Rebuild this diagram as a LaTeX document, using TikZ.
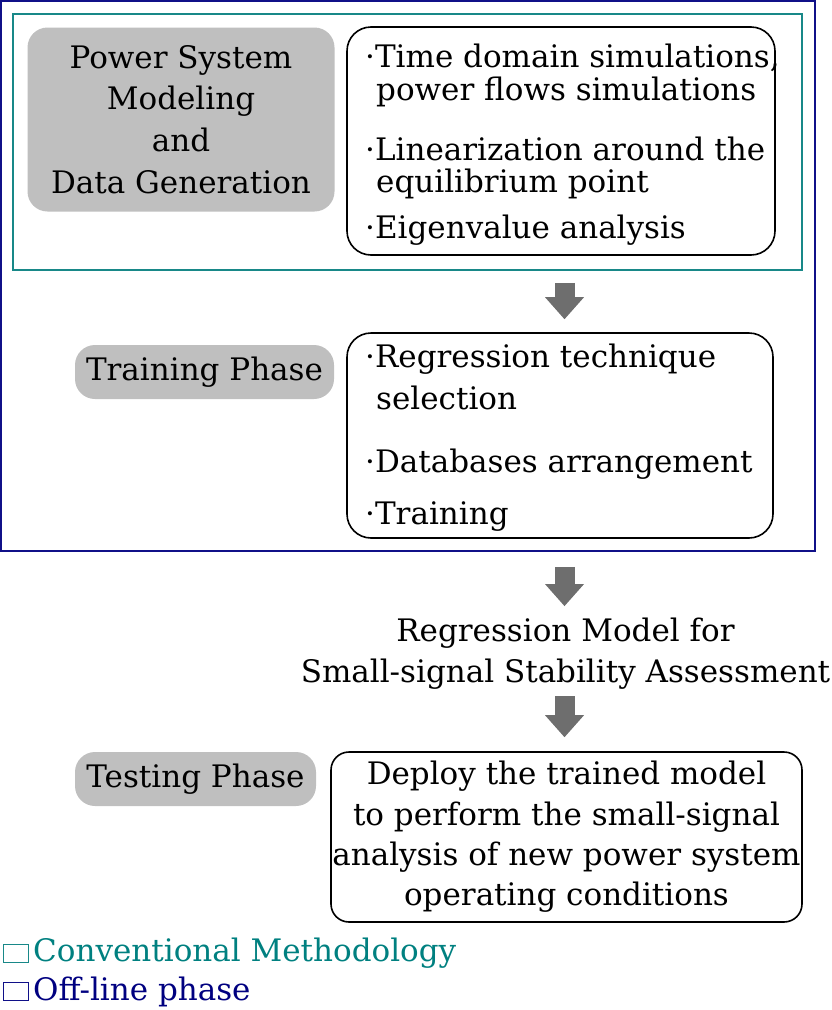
\documentclass[tikz,border=0pt]{standalone}
\usepackage{fontspec}
\setmainfont{DejaVu Serif}
\usetikzlibrary{arrows.meta,calc}
\definecolor{navyline}{RGB}{16,16,136}
\definecolor{tealline}{RGB}{24,136,136}
\definecolor{tealtext}{RGB}{0,128,128}
\definecolor{navytext}{RGB}{0,0,128}
\definecolor{boxgray}{RGB}{191,191,191}
\definecolor{arrowgray}{RGB}{110,110,110}
\newcommand{\bigtext}{\fontsize{31}{41.7}\selectfont}
\newcommand{\deptext}{\fontsize{31}{40.3}\selectfont}
\newcommand{\bul}{·}
\tikzset{
  graybox/.style={fill=boxgray, rounded corners=20pt, inner sep=0pt, align=center, font=\bigtext},
  listbox/.style={draw=black, line width=1.6pt, rounded corners=24pt, inner sep=0pt},
  txt/.style={inner sep=0pt, anchor=base west, font=\bigtext},
  bigarrow/.style={draw=arrowgray, line width=20pt, -{Triangle[width=39pt,length=22pt,line width=0pt]}},
  legsq/.style={line width=1pt, minimum width=25pt, minimum height=18pt, inner sep=0pt},
}
\begin{document}
\begin{tikzpicture}[x=1pt,y=1pt,yscale=-1]
  \useasboundingbox (0,0) rectangle (831,1010);
  %Shape: Rectangle (off-line phase)
  \draw[navyline, line width=2pt] (1,1) rectangle (815,551);
  %Shape: Rectangle (conventional methodology)
  \draw[tealline, line width=2pt] (13,14) rectangle (802,270);
  % Gray boxes
  \node[graybox, minimum width=307pt, minimum height=184pt] (psm) at (181,119.5) {Power System\\Modeling\\and\\Data Generation};
  \node[graybox, minimum width=259pt, minimum height=54pt] (train) at (204.5,372) {Training Phase};
  \node[graybox, minimum width=241pt, minimum height=54pt] (test) at (195.5,779) {Testing Phase};
  % White boxes
  \node[listbox, minimum width=428pt, minimum height=228pt] (box1) at (561,141) {};
  \node[listbox, minimum width=426pt, minimum height=205pt] (box2) at (560,435.5) {};
  \node[listbox, rounded corners=18pt, minimum width=471pt, minimum height=170pt, align=center, font=\deptext] (box3) at (566.5,837) {Deploy the trained model\\to perform the small-signal\\analysis of new power system\\operating conditions};
  % Text Node
  \node[txt] (sim1) at (365,67.5) {\bul Time domain simulations,};
  \node[txt] (sim2) at (376,100.5) {power flows simulations};
  \node[txt] (lin1) at (365,160.5) {\bul Linearization around the};
  \node[txt] (lin2) at (376,192.5) {equilibrium point};
  \node[txt] (eig) at (365,238) {\bul Eigenvalue analysis};
  % Text Node
  \node[txt] (reg1) at (365,367.5) {\bul Regression technique};
  \node[txt] (reg2) at (376,409.5) {selection};
  \node[txt] (dba) at (365,472.5) {\bul Databases arrangement};
  \node[txt] (trn) at (365,524) {\bul Training};
  % Text Node
  \node[inner sep=0pt, align=center, font=\fontsize{31}{41}\selectfont] (model) at (565.5,654) {Regression Model for\\Small-signal Stability Assessment};
  % Arrows
  \coordinate (ax) at (564.5,0);
  \draw[bigarrow] ($(box1.south -| ax)+(0,27)$) -- ($(box2.north -| ax)+(0,-13)$);
  \draw[bigarrow] ($(box2.south -| ax)+(0,28)$) -- ($(model.north -| ax)+(0,-12)$);
  \draw[bigarrow] ($(model.south -| ax)+(0,6.5)$) -- ($(box3.north -| ax)+(0,-14)$);
  % Legend
  \node[legsq, draw=tealline] (convsq) at (15.5,953.5) {};
  \node[txt, text=tealtext] (convtxt) at (33,961.5) {Conventional Methodology};
  \node[legsq, draw=navyline] (offsq) at (15.5,991.5) {};
  \node[txt, text=navytext] (offtxt) at (33,1000) {Off-line phase};
\end{tikzpicture}
\end{document}
